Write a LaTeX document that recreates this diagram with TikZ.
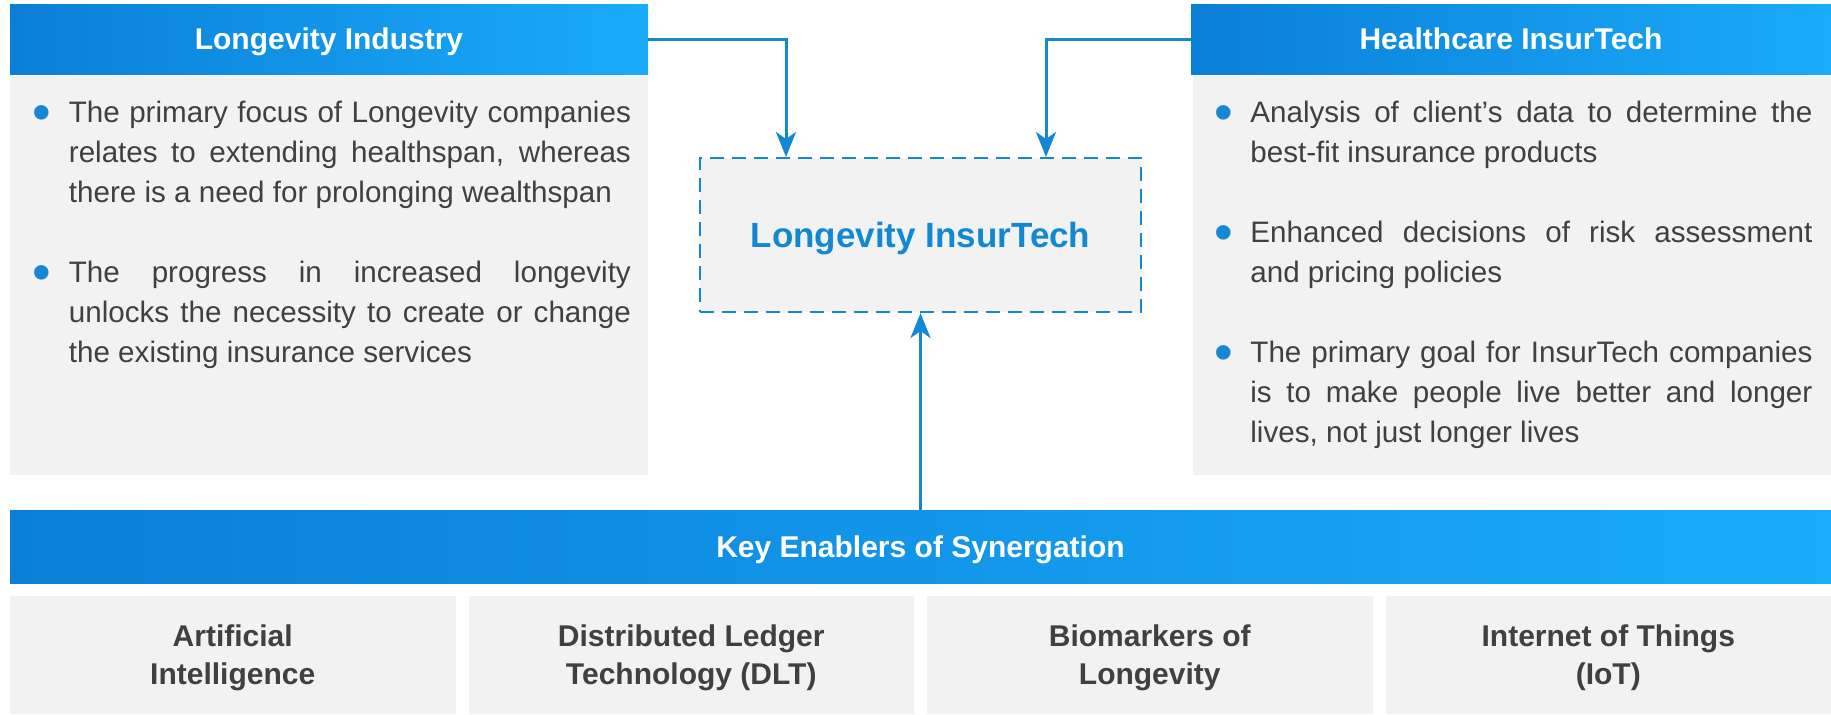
\documentclass[tikz,border=0pt]{standalone}
\usepackage{fontspec}
\setmainfont{Liberation Sans}
\usepackage{graphicx}
\usetikzlibrary{arrows.meta,positioning}

\definecolor{bluedark}{HTML}{0A7FD8}
\definecolor{bluelight}{HTML}{1AABFA}
\definecolor{linkblue}{HTML}{1488D2}
\definecolor{titleblue}{HTML}{1288D3}
\definecolor{panelgray}{HTML}{F2F2F2}
\definecolor{textgray}{HTML}{404040}

\newcommand{\dotpoint}{\noindent\llap{\makebox[18pt][l]{\raisebox{-4.3pt}{\textcolor{linkblue}{\scalebox{1.8}{\textbullet}}}}}}
\newcommand{\loosepar}{\tolerance=10000\relax\hyphenpenalty=10000\relax\parindent=0pt\relax}

\begin{document}
\begin{tikzpicture}[x=0.5pt, y=-0.5pt,
    head/.style={inner sep=0pt, outer sep=0pt, minimum height=35pt, text depth=0pt, text=white,
        left color=bluedark, right color=bluelight, font=\fontsize{15}{18}\selectfont\bfseries},
    panel/.style={fill=panelgray, inner sep=0pt, outer sep=0pt, minimum width=319pt, minimum height=199.5pt},
    bodytext/.style={anchor=base west, inner sep=0pt, text width=281pt, align=justify, text=textgray,
        font=\fontsize{14.8}{20}\selectfont},
    enabler/.style={fill=panelgray, inner sep=0pt, outer sep=0pt, minimum width=222.75pt, minimum height=59pt,
        align=center, text depth=0pt, text=textgray, font=\fontsize{15}{19}\selectfont\bfseries},
    link/.style={draw=linkblue, line width=1.5pt, -{Stealth[length=12.5pt, width=10pt, inset=3.5pt]}}
]
    \useasboundingbox (0,0) rectangle (1831,714);

    \node[head, minimum width=319pt] (lind) at (329,39) {Longevity Industry};
    \node[head, minimum width=320pt] (hins) at (1511,39) {Healthcare InsurTech};
    \node[panel] (lpanel) at (329,275.5) {};
    \node[panel] (hpanel) at (1512,275.5) {};

    \node[bodytext] (ltext) at (68.5,122) {\loosepar\dotpoint The primary focus of Longevity companies\linebreak relates to extending healthspan, whereas\linebreak there is a need for prolonging wealthspan\par\vspace{20pt}%
        \dotpoint The progress in increased longevity\linebreak unlocks the necessity to create or change\linebreak the existing insurance services};
    \node[bodytext] (htext) at (1250,122) {\loosepar\dotpoint Analysis of client's data to determine the\linebreak best-fit insurance products\par\vspace{20pt}%
        \dotpoint Enhanced decisions of risk assessment\linebreak and pricing policies\par\vspace{20pt}%
        \dotpoint The primary goal for InsurTech companies\linebreak is to make people live better and longer\linebreak lives, not just longer lives};

    \node[draw=linkblue, line width=1pt, dash pattern=on 7pt off 4pt, fill=panelgray, inner sep=0pt,
        minimum width=220.5pt, minimum height=77pt, text depth=0pt, text=titleblue,
        font=\fontsize{17.5}{21}\selectfont\bfseries] (lit) at (920.5,235) {Longevity InsurTech};

    \node[head, minimum width=910.5pt, minimum height=36.5pt] (keb) at (920.5,546.5) {Key Enablers of Synergation};

    \node[enabler] (ai) at (232.75,655) {Artificial\\Intelligence};
    \node[enabler, right=6.5pt of ai] (dlt) {Distributed Ledger\\Technology (DLT)};
    \node[enabler, right=6.5pt of dlt] (bio) {Biomarkers of\\Longevity};
    \node[enabler, right=6.5pt of bio] (iot) {Internet of Things\\(IoT)};

    \draw[link] (lind.east) -| ([xshift=-67.25pt]lit.north);
    \draw[link] (hins.west) -| ([xshift=62.75pt]lit.north);
    \draw[link] (keb.north) -- (lit.south);
\end{tikzpicture}
\end{document}
